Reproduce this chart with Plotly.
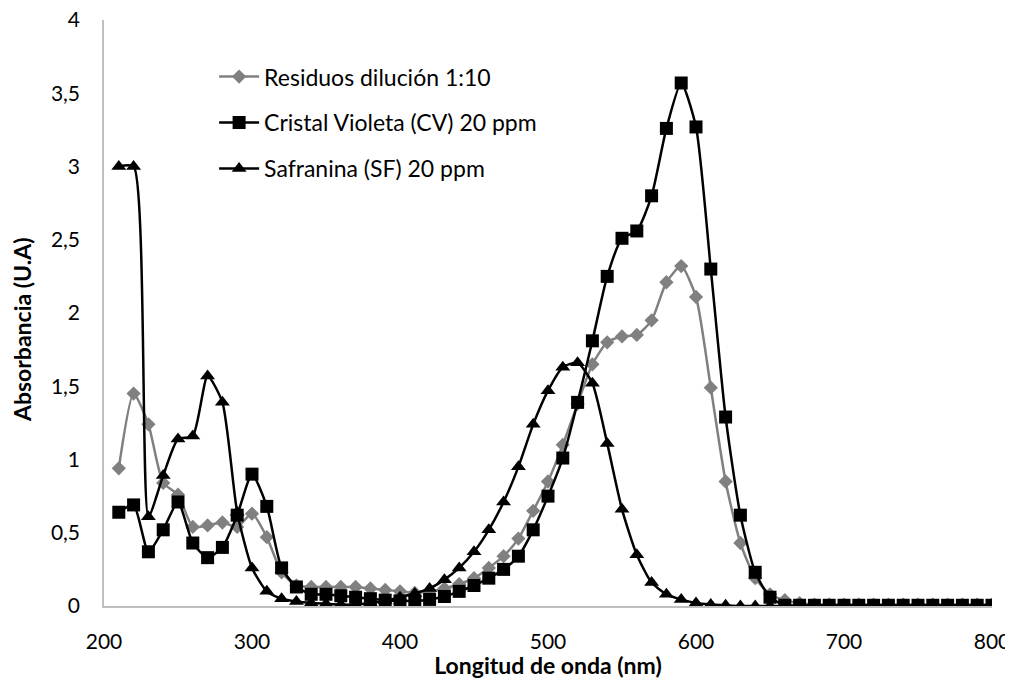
import plotly.graph_objects as go

wavelength = list(range(210, 801, 10))

residuos = [0.94, 1.45, 1.24, 0.84, 0.76, 0.54, 0.55, 0.57, 0.54, 0.63,
            0.47, 0.23, 0.14, 0.13, 0.13, 0.13, 0.13, 0.12, 0.11, 0.10,
            0.09, 0.10, 0.12, 0.15, 0.19, 0.26, 0.34, 0.46, 0.65, 0.85,
            1.10, 1.38, 1.65, 1.80, 1.84, 1.85, 1.95, 2.21, 2.32, 2.11,
            1.49, 0.85, 0.43, 0.19, 0.08, 0.04, 0.02, 0.01, 0.01, 0.01,
            0.01, 0.01, 0.01, 0.01, 0.01, 0.01, 0.01, 0.01, 0.01, 0.01]

cristal_violeta = [0.64, 0.69, 0.37, 0.52, 0.71, 0.43, 0.33, 0.40, 0.62, 0.90,
                   0.68, 0.26, 0.13, 0.08, 0.08, 0.07, 0.06, 0.05, 0.04, 0.035,
                   0.035, 0.045, 0.065, 0.10, 0.14, 0.19, 0.25, 0.34, 0.52, 0.75,
                   1.01, 1.39, 1.81, 2.25, 2.51, 2.56, 2.80, 3.26, 3.57, 3.27,
                   2.30, 1.29, 0.62, 0.23, 0.06, 0.005, 0.005, 0.005, 0.005, 0.005,
                   0.005, 0.005, 0.005, 0.005, 0.005, 0.005, 0.005, 0.005, 0.005, 0.005]

safranina = [3.00, 3.00, 0.61, 0.89, 1.14, 1.16, 1.57, 1.39, 0.64, 0.26,
             0.10, 0.05, 0.03, 0.02, 0.015, 0.01, 0.01, 0.02, 0.035, 0.06,
             0.085, 0.12, 0.18, 0.26, 0.37, 0.52, 0.71, 0.95, 1.24, 1.47,
             1.63, 1.66, 1.52, 1.11, 0.66, 0.35, 0.16, 0.08, 0.045, 0.02,
             0.01, 0.005, 0.0, 0.0, 0.0, 0.0, 0.0, 0.0, 0.0, 0.0,
             0.0, 0.0, 0.0, 0.0, 0.0, 0.0, 0.0, 0.0, 0.0, 0.0]

series_names = ["Residuos dilución 1:10", "Cristal Violeta (CV) 20 ppm", "Safranina (SF) 20 ppm"]

y_tickvals = [0, 0.5, 1, 1.5, 2, 2.5, 3, 3.5, 4]
y_ticktext = ["0", "0,5", "1", "1,5", "2", "2,5", "3", "3,5", "4"]
x_tickvals = [200, 300, 400, 500, 600, 700, 800]

FONT = "Lato"
TICK_SIZE = 21
TEXT_SIZE = 23

fig = go.Figure()
styles = [
    dict(color="#808080", symbol="diamond", size=11),
    dict(color="#000000", symbol="square", size=13),
    dict(color="#000000", symbol="triangle-up", size=13),
]
for i, (name, ys, st) in enumerate(zip(series_names, [residuos, cristal_violeta, safranina], styles)):
    fig.add_trace(go.Scatter(
        x=wavelength, y=ys, name=name, mode="lines+markers",
        line=dict(color=st["color"], width=2.5, shape="spline", smoothing=0.6),
        marker=dict(color=st["color"], symbol=st["symbol"], size=st["size"], line=dict(width=0)),
        legendgroup=f"g{i}",
    ))

# page body has an 8px margin; figure sized to fit the window
fig.update_layout(
    width=1005, height=671,
    margin=dict(l=96, r=21, t=12, b=73),
    plot_bgcolor="white", paper_bgcolor="white",
    font=dict(family=FONT, size=TICK_SIZE, color="#000000"),
    showlegend=True,
    legend=dict(x=0.124, y=0.94, xanchor="left", yanchor="top",
                font=dict(family=FONT, size=TEXT_SIZE, color="#000000"),
                bgcolor="rgba(0,0,0,0)", traceorder="grouped", tracegroupgap=13,
                itemwidth=40),
    annotations=[dict(
        text="<b>Absorbancia (U.A)</b>", textangle=-90, showarrow=False,
        xref="paper", yref="paper", x=-0.0923, y=0.471, xanchor="center", yanchor="middle",
        font=dict(family=FONT, size=TEXT_SIZE, color="#000000"),
    )],
)
fig.update_xaxes(
    range=[200, 800], tickvals=x_tickvals, showgrid=False, zeroline=False,
    showline=True, linecolor="#bfbfbf", linewidth=1.5, ticks="",
    automargin=False, ticklabelstandoff=16, ticklabeloverflow="allow",
    tickfont=dict(family=FONT, size=TICK_SIZE),
    title=dict(text="<b>Longitud de onda (nm)</b>", font=dict(family=FONT, size=TEXT_SIZE), standoff=5),
)
fig.update_yaxes(
    range=[0, 4], tickvals=y_tickvals, ticktext=y_ticktext, showgrid=False, zeroline=False,
    showline=True, linecolor="#bfbfbf", linewidth=1.5, ticks="",
    automargin=False, ticklabelstandoff=18, ticklabeloverflow="allow",
    tickfont=dict(family=FONT, size=TICK_SIZE),
)

fig.write_html("out.html")
